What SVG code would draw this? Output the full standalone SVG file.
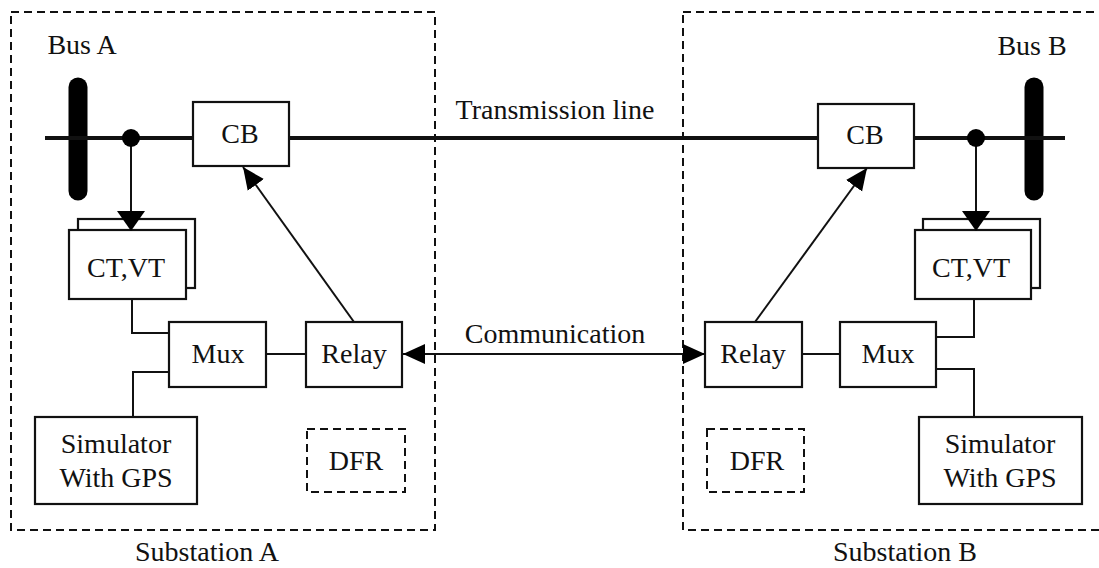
<svg xmlns="http://www.w3.org/2000/svg" width="1099" height="568" viewBox="0 0 1099 568" font-family="'Liberation Serif', 'Times New Roman', serif">
<style>
text{font-family:"Liberation Serif","Times New Roman",serif;font-size:28px;fill:#111;text-anchor:middle}
.box{fill:#fff;stroke:#111;stroke-width:2.2}
.dash{fill:none;stroke:#111;stroke-width:2;stroke-dasharray:8 5}
.dbox{fill:#fff;stroke:#111;stroke-width:2;stroke-dasharray:8 5}
.wire{fill:none;stroke:#111;stroke-width:2}
.line{fill:none;stroke:#111;stroke-width:4}
.bus{stroke:#000;stroke-width:19;stroke-linecap:round}
</style>
<defs>
<marker id="ah" markerUnits="userSpaceOnUse" markerWidth="22" markerHeight="22" viewBox="0 0 20 20" refX="20" refY="10" orient="auto-start-reverse">
<path d="M0,1 L20,10 L0,19 Z" fill="#000"/>
</marker>
<marker id="ahb" markerUnits="userSpaceOnUse" markerWidth="22" markerHeight="28" viewBox="0 0 20 28" refX="20" refY="14" orient="auto">
<path d="M0,0 L20,14 L0,28 Z" fill="#000"/>
</marker>
</defs>
<rect width="1099" height="568" fill="#fff"/>

<g id="substation-a">
<rect class="dash" x="11" y="12" width="424" height="518"/>
<text x="207" y="561">Substation A</text>
</g>
<g id="substation-b">
<rect class="dash" x="683" y="12" width="430" height="518"/>
<text x="905" y="561">Substation B</text>
</g>

<g id="bus-a">
<line class="bus" x1="78" y1="87" x2="78" y2="191"/>
<text x="82" y="54">Bus A</text>
</g>
<g id="bus-b">
<line class="bus" x1="1034" y1="87" x2="1034" y2="191"/>
<text x="1032" y="55">Bus B</text>
</g>

<g id="cb-a">
<rect class="box" x="193" y="102" width="96" height="64"/>
<text x="240" y="143">CB</text>
</g>
<g id="cb-b">
<rect class="box" x="818" y="104" width="96" height="64"/>
<text x="865" y="144">CB</text>
</g>

<g id="ctvt-a">
<rect class="box" x="78" y="219" width="117" height="69"/>
<rect class="box" x="69" y="230" width="117" height="69"/>
<text x="126" y="277">CT,VT</text>
</g>
<g id="ctvt-b">
<rect class="box" x="923" y="219" width="117" height="69"/>
<rect class="box" x="915" y="230" width="116" height="69"/>
<text x="971" y="277">CT,VT</text>
</g>

<g id="mux-a">
<rect class="box" x="169" y="322" width="97" height="65"/>
<text x="218" y="363">Mux</text>
</g>
<g id="relay-a">
<rect class="box" x="306" y="322" width="96" height="65"/>
<text x="354" y="363">Relay</text>
</g>
<g id="mux-b">
<rect class="box" x="840" y="322" width="96" height="65"/>
<text x="888" y="363">Mux</text>
</g>
<g id="relay-b">
<rect class="box" x="705" y="322" width="97" height="65"/>
<text x="753" y="363">Relay</text>
</g>

<g id="sim-a">
<rect class="box" x="35" y="417" width="162" height="87"/>
<text x="116" y="453">Simulator</text>
<text x="116" y="487">With GPS</text>
</g>
<g id="sim-b">
<rect class="box" x="919" y="417" width="163" height="87"/>
<text x="1000" y="453">Simulator</text>
<text x="1000" y="487">With GPS</text>
</g>

<g id="dfr-a">
<rect class="dbox" x="307" y="429" width="98" height="63"/>
<text x="356" y="470">DFR</text>
</g>
<g id="dfr-b">
<rect class="dbox" x="707" y="429" width="97" height="63"/>
<text x="757" y="470">DFR</text>
</g>

<g id="connectors">
<line class="line" x1="45" y1="138" x2="193" y2="138"/>
<line class="line" x1="289" y1="138" x2="818" y2="138"/>
<line class="line" x1="914" y1="138" x2="1065" y2="138"/>
<line class="wire" x1="131" y1="138" x2="131" y2="231" marker-end="url(#ahb)"/>
<line class="wire" x1="976" y1="138" x2="976" y2="231" marker-end="url(#ahb)"/>
<line class="wire" x1="354" y1="322" x2="243" y2="167" marker-end="url(#ah)"/>
<line class="wire" x1="755" y1="322" x2="867" y2="168" marker-end="url(#ah)"/>
<line class="wire" x1="403" y1="354" x2="705" y2="354" marker-start="url(#ah)" marker-end="url(#ah)"/>
<line class="wire" x1="266" y1="354" x2="306" y2="354"/>
<line class="wire" x1="802" y1="354" x2="840" y2="354"/>
<polyline class="wire" points="132,299 132,333 169,333"/>
<polyline class="wire" points="133,417 133,372 169,372"/>
<polyline class="wire" points="974,299 974,337 936,337"/>
<polyline class="wire" points="974,417 974,369 936,369"/>
<circle cx="131" cy="138" r="9" fill="#000"/>
<circle cx="976" cy="138" r="9" fill="#000"/>
<text x="555" y="119">Transmission line</text>
<text x="555" y="343">Communication</text>
</g>
</svg>
